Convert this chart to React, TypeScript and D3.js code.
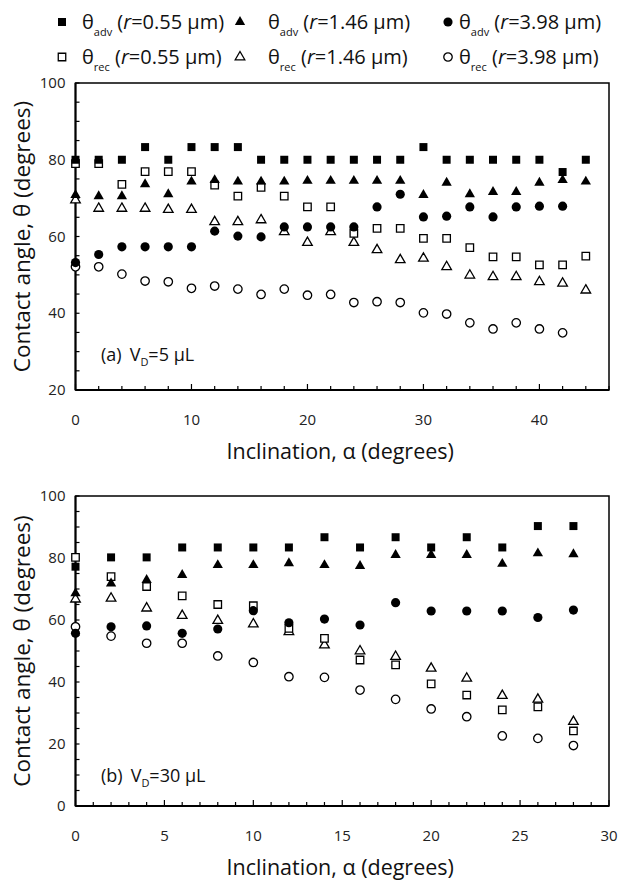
import React from "react";
import * as d3 from "d3";

// ---------- Data ----------
const xTop = d3.range(0, 45, 2); // 0..44
const topAdv055 = [80, 80, 80, 83.3, 80, 83.3, 83.3, 83.3, 80, 80, 80, 80, 80, 80, 80, 83.3, 80, 80, 80, 80, 80, 76.8, 80];
const topAdv146 = [70.8, 70.5, 70.5, 73.6, 71.0, 74.3, 74.7, 74.3, 74.3, 74.3, 74.5, 74.5, 74.5, 74.5, 74.5, 70.8, 74.0, 71.0, 71.6, 71.6, 74.0, 74.7, 74.3];
const topAdv398 = [53.2, 55.3, 57.3, 57.3, 57.3, 57.3, 61.4, 60.1, 59.9, 62.5, 62.5, 62.5, 62.5, 67.7, 71.0, 65.1, 65.3, 67.7, 65.1, 67.7, 67.9, 67.9];
const topRec055 = [79.0, 79.0, 73.6, 76.9, 76.9, 76.9, 73.4, 70.5, 72.8, 70.5, 67.7, 67.7, 60.8, 62.1, 62.1, 59.5, 59.5, 57.1, 54.7, 54.7, 52.6, 52.6, 54.9];
const topRec146 = [69.5, 67.3, 67.3, 67.3, 67.0, 67.0, 63.8, 63.8, 64.3, 61.2, 58.4, 61.2, 58.4, 56.5, 53.9, 54.3, 52.1, 49.9, 49.5, 49.5, 48.2, 47.8, 46.0];
const topRec398 = [52.1, 52.1, 50.2, 48.4, 48.2, 46.5, 47.1, 46.3, 44.9, 46.3, 44.7, 44.9, 42.8, 43.0, 42.8, 40.1, 39.8, 37.5, 35.9, 37.5, 35.9, 34.9];

const xBot = d3.range(0, 29, 2); // 0..28
const botAdv055 = [77.2, 80.2, 80.2, 83.4, 83.4, 83.4, 83.4, 86.7, 83.4, 86.7, 83.4, 86.7, 83.4, 90.3, 90.3];
const botAdv146 = [68.6, 71.8, 72.9, 74.5, 77.7, 77.7, 78.3, 77.7, 77.4, 81.0, 81.0, 81.0, 78.1, 81.5, 81.2];
const botAdv398 = [55.7, 57.8, 58.1, 55.7, 57.1, 63.0, 59.1, 60.3, 58.4, 65.6, 62.9, 62.9, 62.9, 60.8, 63.2];
const botRec055 = [80.2, 74.0, 70.8, 67.8, 65.0, 64.6, 57.3, 54.1, 47.1, 45.5, 39.4, 35.8, 31.0, 32.0, 24.2];
const botRec146 = [66.7, 67.0, 63.8, 61.4, 59.8, 58.7, 56.2, 51.9, 50.0, 48.2, 44.4, 41.2, 35.6, 34.4, 27.2];
const botRec398 = [57.8, 54.8, 52.5, 52.5, 48.4, 46.3, 41.7, 41.5, 37.4, 34.4, 31.3, 28.8, 22.6, 21.8, 19.5];

const topXTicks = [0, 10, 20, 30, 40];
const topYTicks = [20, 40, 60, 80, 100];
const botXTicks = [0, 5, 10, 15, 20, 25, 30];
const botYTicks = [0, 20, 40, 60, 80, 100];

const legendRadii = ["0.55", "1.46", "3.98"];

const FONT = "'Open Sans', 'DejaVu Sans', sans-serif";

type Shape = "square" | "triangle" | "circle";

function Marker({ x, y, shape, filled }: { x: number; y: number; shape: Shape; filled: boolean }) {
  const typeMap = { square: d3.symbolSquare, triangle: d3.symbolTriangle, circle: d3.symbolCircle };
  const sizeMap = filled
    ? { square: 64, triangle: 46, circle: 66 }
    : { square: 56, triangle: 40, circle: 56 };
  const path = d3.symbol().type(typeMap[shape]).size(sizeMap[shape])() as string;
  return (
    <path
      d={path}
      transform={`translate(${x},${y})`}
      fill={filled ? "#000" : "#fff"}
      stroke="#000"
      strokeWidth={filled ? 0 : 1.3}
    />
  );
}

interface PanelProps {
  top: number;
  bottom: number;
  xMax: number;
  yMin: number;
  xTicksMajor: number[];
  xMinorStep: number;
  yTicksMajor: number[];
  yMinorStep: number;
  xs: number[];
  series: { vals: number[]; shape: Shape; filled: boolean }[];
  label: string;
  volume: string;
  labelY: number;
}

const LEFT = 75.5;
const RIGHT = 609;

function Panel(p: PanelProps) {
  const x = d3.scaleLinear().domain([0, p.xMax]).range([LEFT, RIGHT]);
  const y = d3.scaleLinear().domain([p.yMin, 100]).range([p.bottom, p.top]);
  const xMinor = d3.range(0, p.xMax + 0.001, p.xMinorStep);
  const yMinor = d3.range(p.yMin, 100.001, p.yMinorStep);
  return (
    <g>
      <rect x={LEFT} y={p.top} width={RIGHT - LEFT} height={p.bottom - p.top} fill="none" stroke="#000" strokeWidth={1.5} />
      <line x1={LEFT} x2={LEFT} y1={p.top} y2={p.bottom} stroke="#000" strokeWidth={2} />
      <line x1={LEFT} x2={RIGHT} y1={p.bottom} y2={p.bottom} stroke="#000" strokeWidth={2} />
      {xMinor.map((v) => {
        const major = p.xTicksMajor.includes(v);
        return <line key={"xm" + v} x1={x(v)} x2={x(v)} y1={p.bottom} y2={p.bottom - (major ? 6 : 4)} stroke="#000" strokeWidth={1.2} />;
      })}
      {yMinor.map((v) => (
        <line key={"ym" + v} x1={LEFT} x2={LEFT + 4} y1={y(v)} y2={y(v)} stroke="#000" strokeWidth={1.2} />
      ))}
      {p.xTicksMajor.map((v) => (
        <text key={"xl" + v} x={x(v)} y={p.bottom + 35} textAnchor="middle" fontSize={15} fontFamily={FONT} fill="#222">
          {v}
        </text>
      ))}
      {p.yTicksMajor.map((v) => (
        <text key={"yl" + v} x={LEFT - 10} y={y(v) + 5} textAnchor="end" fontSize={15} fontFamily={FONT} fill="#222">
          {v}
        </text>
      ))}
      <text x={(LEFT + RIGHT) / 2 - 2} y={p.bottom + 69} textAnchor="middle" fontSize={21.5} fontFamily={FONT} fill="#111">
        Inclination, α (degrees)
      </text>
      <text
        transform={`translate(30,${(p.top + p.bottom) / 2}) rotate(-90)`}
        textAnchor="middle"
        fontSize={22.5}
        fontFamily={FONT}
        fill="#111"
      >
        Contact angle, θ (degrees)
      </text>
      <text x={101} y={p.labelY} fontSize={18} fontFamily={FONT} fill="#111">
        <tspan>({p.label})</tspan>
        <tspan dx={8}>V</tspan>
        <tspan fontSize={11} dy={5}>D</tspan>
        <tspan dy={-5}>={p.volume} μL</tspan>
      </text>
      {p.series.map((s, si) =>
        s.vals.map((v, i) => (
          <Marker key={si + "-" + i} x={x(p.xs[i])} y={y(v)} shape={s.shape} filled={s.filled} />
        ))
      )}
    </g>
  );
}

function LegendItem({ mx, tx, y, shape, filled, sub, r }: { mx: number; tx: number; y: number; shape: Shape; filled: boolean; sub: string; r: string }) {
  return (
    <g>
      <Marker x={mx} y={y} shape={shape} filled={filled} />
      <text x={tx} y={y + 7} fontSize={20} fontFamily={FONT} fill="#111">
        <tspan>θ</tspan>
        <tspan fontSize={11} dy={7}>{sub}</tspan>
        <tspan dy={-7}> (</tspan>
        <tspan fontStyle="italic">r</tspan>
        <tspan>={r} μm)</tspan>
      </text>
    </g>
  );
}

export default function App() {
  const shapes: Shape[] = ["square", "triangle", "circle"];
  const mxs = [62, 240, 448];
  const txs = [82, 268, 459];
  const topSeries = [
    { vals: topRec398, shape: "circle" as Shape, filled: false },
    { vals: topRec146, shape: "triangle" as Shape, filled: false },
    { vals: topRec055, shape: "square" as Shape, filled: false },
    { vals: topAdv398, shape: "circle" as Shape, filled: true },
    { vals: topAdv146, shape: "triangle" as Shape, filled: true },
    { vals: topAdv055, shape: "square" as Shape, filled: true },
  ];
  const botSeries = [
    { vals: botRec398, shape: "circle" as Shape, filled: false },
    { vals: botRec146, shape: "triangle" as Shape, filled: false },
    { vals: botRec055, shape: "square" as Shape, filled: false },
    { vals: botAdv398, shape: "circle" as Shape, filled: true },
    { vals: botAdv146, shape: "triangle" as Shape, filled: true },
    { vals: botAdv055, shape: "square" as Shape, filled: true },
  ];
  return (
    <svg width={619} height={880} style={{ position: "absolute", left: 0, top: 0, background: "#fff" }}>
      <rect x={0} y={0} width={619} height={880} fill="#fff" />
      {legendRadii.map((r, i) => (
        <LegendItem key={"a" + i} mx={mxs[i]} tx={txs[i]} y={22} shape={shapes[i]} filled={true} sub="adv" r={r} />
      ))}
      {legendRadii.map((r, i) => (
        <LegendItem key={"r" + i} mx={mxs[i]} tx={txs[i]} y={57} shape={shapes[i]} filled={false} sub="rec" r={r} />
      ))}
      <Panel
        top={83}
        bottom={390}
        xMax={46}
        yMin={20}
        xTicksMajor={topXTicks}
        xMinorStep={2}
        yTicksMajor={topYTicks}
        yMinorStep={5}
        xs={xTop}
        series={topSeries}
        label="a"
        volume="5"
        labelY={361}
      />
      <Panel
        top={496}
        bottom={806}
        xMax={30}
        yMin={0}
        xTicksMajor={botXTicks}
        xMinorStep={1}
        yTicksMajor={botYTicks}
        yMinorStep={5}
        xs={xBot}
        series={botSeries}
        label="b"
        volume="30"
        labelY={782}
      />
    </svg>
  );
}
